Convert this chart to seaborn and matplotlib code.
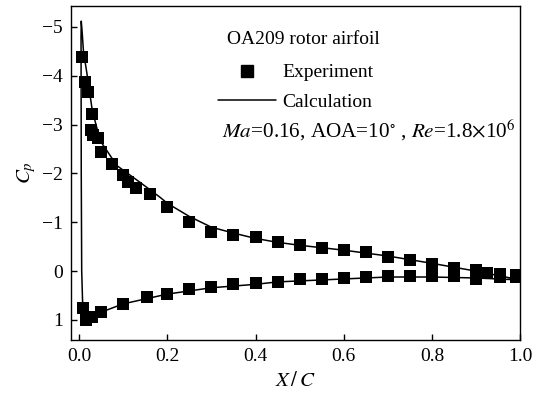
import numpy as np
import pandas as pd
import matplotlib
matplotlib.use("Agg")
import matplotlib.pyplot as plt
import seaborn as sns
from matplotlib.lines import Line2D

# Experiment - upper surface
exp_upper_x = [0.007, 0.014, 0.020, 0.030, 0.027, 0.032, 0.043, 0.050, 0.075, 0.100, 0.110,
               0.130, 0.160, 0.200, 0.250, 0.300, 0.350, 0.400, 0.450, 0.500, 0.550, 0.600,
               0.650, 0.700, 0.750, 0.800, 0.850, 0.900, 0.925, 0.955, 0.990]
exp_upper_cp = [-4.39, -3.88, -3.67, -3.22, -2.90, -2.78, -2.73, -2.45, -2.20, -1.96, -1.82,
                -1.71, -1.59, -1.31, -1.00, -0.80, -0.75, -0.69, -0.59, -0.53, -0.47, -0.43,
                -0.39, -0.29, -0.22, -0.14, -0.06, -0.02, 0.04, 0.06, 0.08]
# Experiment - lower surface
exp_lower_x = [0.010, 0.016, 0.030, 0.050, 0.100, 0.154, 0.200, 0.250, 0.300, 0.350, 0.400,
               0.450, 0.500, 0.550, 0.600, 0.650, 0.700, 0.750, 0.800, 0.850, 0.900, 0.955, 0.990]
exp_lower_cp = [0.76, 1.00, 0.93, 0.84, 0.67, 0.53, 0.47, 0.37, 0.32, 0.27, 0.25,
                0.22, 0.17, 0.16, 0.14, 0.13, 0.09, 0.09, 0.09, 0.10, 0.17, 0.12, 0.12]

# Calculation (traced from trailing edge along upper surface, around LE, back along lower)
calc_x = [1.000, 0.900, 0.800, 0.700, 0.600, 0.500, 0.450, 0.400, 0.350, 0.300, 0.250,
          0.200, 0.184, 0.138, 0.086, 0.048, 0.030, 0.018, 0.010, 0.007, 0.005, 0.0045,
          0.005, 0.006, 0.008, 0.012, 0.018, 0.030, 0.050, 0.100, 0.200, 0.300, 0.400,
          0.450, 0.600, 0.700, 0.800, 0.900, 1.000]
calc_cp = [0.18, 0.00, -0.16, -0.31, -0.43, -0.53, -0.59, -0.67, -0.78, -0.90, -1.12,
           -1.39, -1.51, -1.82, -2.16, -2.67, -3.29, -4.04, -4.50, -4.90, -5.12, -4.80,
           -2.00, 0.00, 0.62, 0.85, 0.97, 0.93, 0.84, 0.67, 0.47, 0.34, 0.27,
           0.22, 0.16, 0.12, 0.12, 0.14, 0.18]

exp_df = pd.DataFrame({"x": exp_upper_x + exp_lower_x, "cp": exp_upper_cp + exp_lower_cp})
calc_df = pd.DataFrame({"x": calc_x, "cp": calc_cp})

sns.set_style("ticks")
plt.rcParams["font.family"] = ["Liberation Serif", "DejaVu Serif"]
plt.rcParams["mathtext.fontset"] = "stix"
plt.rcParams["text.color"] = "black"
plt.rcParams["axes.labelcolor"] = "black"
plt.rcParams["xtick.color"] = "black"
plt.rcParams["ytick.color"] = "black"
plt.rcParams["axes.edgecolor"] = "black"

fig = plt.figure(figsize=(5.47, 4.00), dpi=100)
ax = fig.add_axes([0.130, 0.150, 0.821, 0.835])

sns.lineplot(data=calc_df, x="x", y="cp", sort=False, estimator=None, color="black",
             linewidth=1.1, ax=ax)
sns.scatterplot(data=exp_df, x="x", y="cp", marker="s", s=85, color="black",
                linewidth=0, ax=ax, zorder=3)

ax.set_xlim(-0.018, 1.0)
ax.set_ylim(1.41, -5.43)
ax.set_xticks([0.0, 0.2, 0.4, 0.6, 0.8, 1.0])
ax.set_xticklabels(["0.0", "0.2", "0.4", "0.6", "0.8", "1.0"])
ax.set_yticks([-5, -4, -3, -2, -1, 0, 1])
ax.set_yticklabels(["\u22125", "\u22124", "\u22123", "\u22122", "\u22121", "0", "1"])
ax.tick_params(direction="in", length=4, width=1, labelsize=14, pad=6, colors="black")
for s in ax.spines.values():
    s.set_linewidth(1.0)
    s.set_color("black")
    s.set_visible(True)

ax.set_xlabel(r"$X\,/\,C$", fontsize=15, labelpad=5)
ax.set_ylabel(r"$C_p$", fontsize=15, labelpad=3)

# title line of the legend block, centred at ~303 px
ax.text((303 - 71) / 449, (340 - 40) / 334, "OA209 rotor airfoil",
        transform=ax.transAxes, fontsize=14, ha="center", va="center")

handles = [Line2D([], [], marker="s", linestyle="none", color="black", markersize=9),
           Line2D([], [], color="black", linewidth=1.1)]
leg = ax.legend(handles, ["Experiment", "Calculation"],
                frameon=False, fontsize=14, handlelength=3.0,
                handletextpad=0.3, labelspacing=0.62, loc="upper left",
                bbox_to_anchor=(0.31, (340 - 56) / 334), borderaxespad=0)
ax.text(0.335, (340 - 130) / 334, r"$Ma$=0.16, AOA=10$^{\circ}$ , $Re$=1.8$\times$10$^{6}$",
        transform=ax.transAxes, fontsize=15.2, ha="left", va="center")

fig.savefig("out.png", dpi=100)
